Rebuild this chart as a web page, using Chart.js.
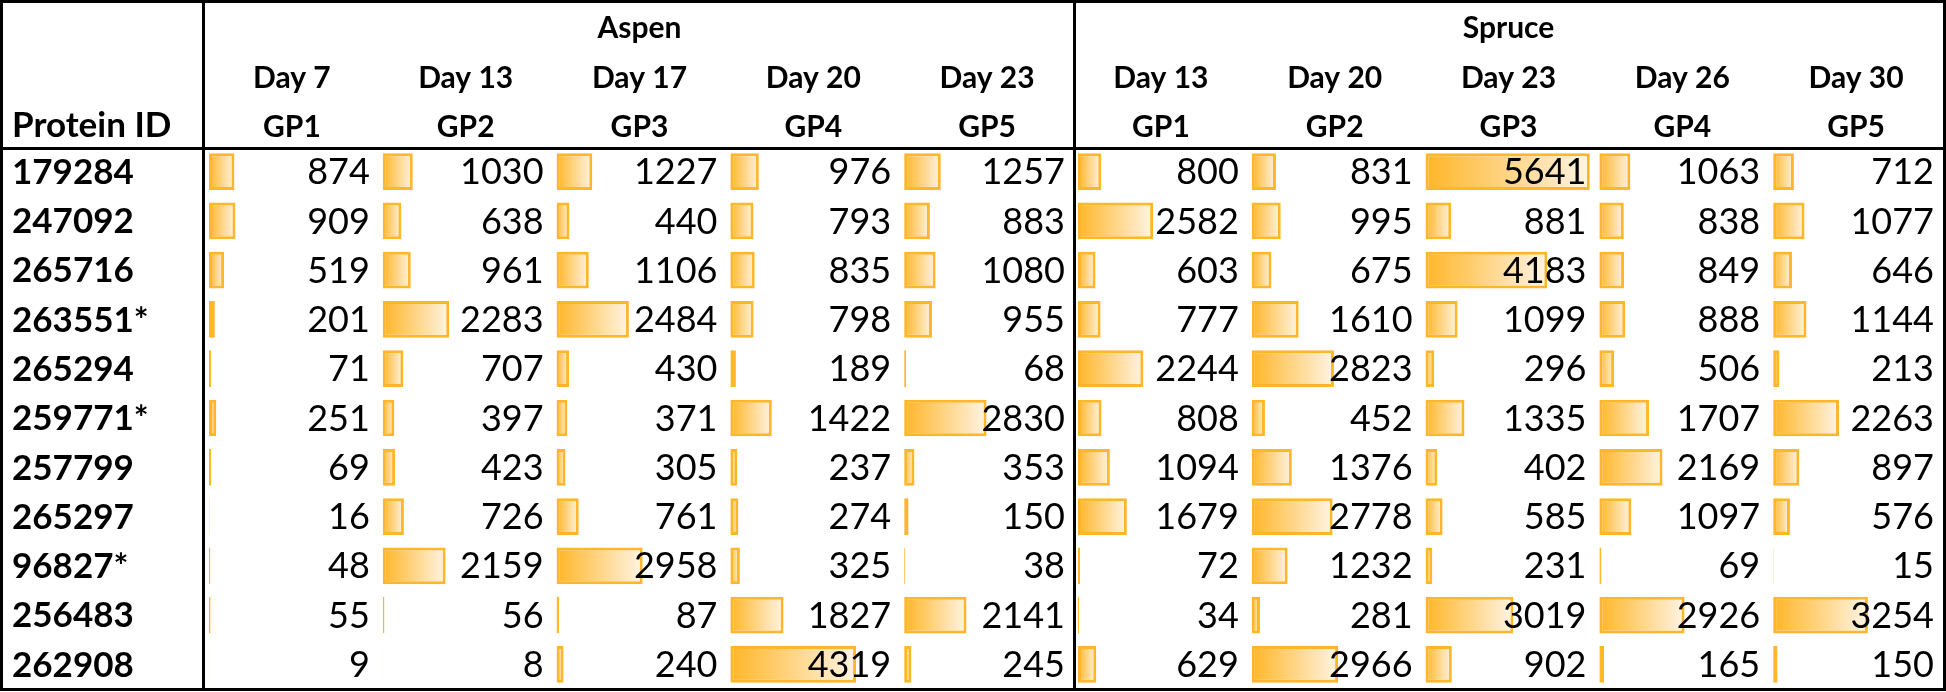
<!DOCTYPE html>
<html>
<head>
<meta charset="utf-8">
<title>Protein abundance – Aspen and Spruce</title>
<script src="https://cdn.jsdelivr.net/npm/chart.js@4.4.1/dist/chart.umd.min.js"></script>
<style>
  html, body { margin: 0; padding: 0; background: #fff; }
  #wrap { width: 1946px; height: 692px; position: relative; }
</style>
</head>
<body>
<div id="wrap"><canvas id="chart"></canvas></div>
<script>
const proteinIds = ['179284', '247092', '265716', '263551*', '265294', '259771*', '257799', '265297', '96827*', '256483', '262908']
const groupLabels = ['Aspen', 'Spruce']
const aspenDays = ['Day 7', 'Day 13', 'Day 17', 'Day 20', 'Day 23']
const spruceDays = ['Day 13', 'Day 20', 'Day 23', 'Day 26', 'Day 30']
const gpLabels = ['GP1', 'GP2', 'GP3', 'GP4', 'GP5']

// one array per column, rows in the order of proteinIds
const aspenGP1 = [874, 909, 519, 201, 71, 251, 69, 16, 48, 55, 9]
const aspenGP2 = [1030, 638, 961, 2283, 707, 397, 423, 726, 2159, 56, 8]
const aspenGP3 = [1227, 440, 1106, 2484, 430, 371, 305, 761, 2958, 87, 240]
const aspenGP4 = [976, 793, 835, 798, 189, 1422, 237, 274, 325, 1827, 4319]
const aspenGP5 = [1257, 883, 1080, 955, 68, 2830, 353, 150, 38, 2141, 245]
const spruceGP1 = [800, 2582, 603, 777, 2244, 808, 1094, 1679, 72, 34, 629]
const spruceGP2 = [831, 995, 675, 1610, 2823, 452, 1376, 2778, 1232, 281, 2966]
const spruceGP3 = [5641, 881, 4183, 1099, 296, 1335, 402, 585, 231, 3019, 902]
const spruceGP4 = [1063, 838, 849, 888, 506, 1707, 2169, 1097, 69, 2926, 165]
const spruceGP5 = [712, 1077, 646, 1144, 213, 2263, 897, 576, 15, 3254, 150]

const columns = [aspenGP1, aspenGP2, aspenGP3, aspenGP4, aspenGP5,
  spruceGP1, spruceGP2, spruceGP3, spruceGP4, spruceGP5]
const dayLabels = aspenDays.concat(spruceDays)

const FONT = 'Lato, "Open Sans", sans-serif'
const BAR_COLOR = '#FFB628'
const BAR_FADE = '#FFF4E4'
const TEXT_SHIFT = 1

Chart.defaults.font.family = FONT

// scriptable so every bar gets its own options object; the real gradient is set at draw time
function barFill(ctx) {
  return BAR_COLOR
}

const scales = {
  y: {
    type: 'category',
    labels: proteinIds,
    position: 'left',
    offset: true,
    grid: { display: false },
    border: { display: false },
    ticks: {
      color: '#000',
      font: { size: 35, weight: 'bold' },
      crossAlign: 'far',
      padding: 0,
      labelOffset: TEXT_SHIFT
    },
    afterFit(scale) {
      scale.width = 193
      scale.paddingTop = 0
      scale.paddingBottom = 0
    }
  }
}
// one hidden value axis per column, laid side by side (bottom stacks go left to right)
columns.forEach((col, i) => {
  scales['x' + i] = {
    type: 'linear',
    position: 'bottom',
    stack: 'cols',
    stackWeight: 1,
    display: false,
    min: -137,
    max: 5835
  }
})

const datasets = columns.map((col, i) => ({
  label: dayLabels[i],
  data: col,
  xAxisID: 'x' + i,
  yAxisID: 'y',
  backgroundColor: barFill,
  borderColor: BAR_COLOR,
  borderWidth: 3,
  borderSkipped: false,
  grouped: false,
  barPercentage: 0.745,
  categoryPercentage: 1
}))

const tablePlugin = {
  id: 'tableFrame',
  beforeDraw(chart) {
    const { ctx, width, height } = chart
    ctx.save()
    ctx.fillStyle = '#fff'
    ctx.fillRect(0, 0, width, height)
    ctx.restore()
  },
  beforeDatasetsDraw(chart) {
    // data-bar style fill: orange at the base fading out towards the value
    chart.data.datasets.forEach((ds, i) => {
      chart.getDatasetMeta(i).data.forEach(bar => {
        const x0 = bar.base
        const x1 = bar.x
        if (!isFinite(x0) || !isFinite(x1)) return
        const g = chart.ctx.createLinearGradient(x0, 0, Math.max(x1, x0 + 1), 0)
        g.addColorStop(0, BAR_COLOR)
        g.addColorStop(1, BAR_FADE)
        bar.options.backgroundColor = g
      })
    })
  },
  afterDatasetsDraw(chart) {
    const { ctx, chartArea, scales } = chart
    const y = scales.y
    ctx.save()
    ctx.fillStyle = '#000'

    // cell values
    ctx.font = '36px ' + FONT
    ctx.textAlign = 'right'
    ctx.textBaseline = 'middle'
    columns.forEach((col, i) => {
      const xs = scales['x' + i]
      col.forEach((v, j) => {
        ctx.fillText(String(v), xs.right - 9, y.getPixelForValue(j) + TEXT_SHIFT)
      })
    })

    // column headers
    ctx.font = 'bold 30px ' + FONT
    ctx.textAlign = 'center'
    ctx.textBaseline = 'alphabetic'
    columns.forEach((col, i) => {
      const xs = scales['x' + i]
      const cx = (xs.left + xs.right) / 2
      ctx.fillText(dayLabels[i], cx, chartArea.top - 59.5)
      ctx.fillText(gpLabels[i % 5], cx, chartArea.top - 10)
    })
    groupLabels.forEach((g, k) => {
      const left = scales['x' + (k * 5)].left
      const right = scales['x' + (k * 5 + 4)].right
      ctx.fillText(g, (left + right) / 2, chartArea.top - 109)
    })
    ctx.font = 'bold 35px ' + FONT
    ctx.textAlign = 'left'
    ctx.fillText('Protein ID', y.left, chartArea.top - 10)

    // frame and rules
    ctx.strokeStyle = '#000'
    ctx.lineWidth = 3
    ctx.strokeRect(1.5, 1.5, chart.width - 3, chartArea.bottom - 1)
    ctx.beginPath()
    ctx.moveTo(chartArea.left - 1.5, 0)
    ctx.lineTo(chartArea.left - 1.5, chartArea.bottom + 2)
    ctx.moveTo(scales.x5.left + 0.5, 0)
    ctx.lineTo(scales.x5.left + 0.5, chartArea.bottom + 2)
    ctx.moveTo(0, chartArea.top + 1.5)
    ctx.lineTo(chart.width, chartArea.top + 1.5)
    ctx.stroke()
    ctx.restore()
  }
}

new Chart(document.getElementById('chart'), {
  type: 'bar',
  data: { labels: proteinIds, datasets },
  options: {
    indexAxis: 'y',
    responsive: true,
    maintainAspectRatio: false,
    devicePixelRatio: 1,
    animation: false,
    layout: { padding: { left: 12, top: 147, right: 3, bottom: 3 } },
    plugins: { legend: { display: false }, tooltip: { enabled: false } },
    scales
  },
  plugins: [tablePlugin]
})
</script>
</body>
</html>
